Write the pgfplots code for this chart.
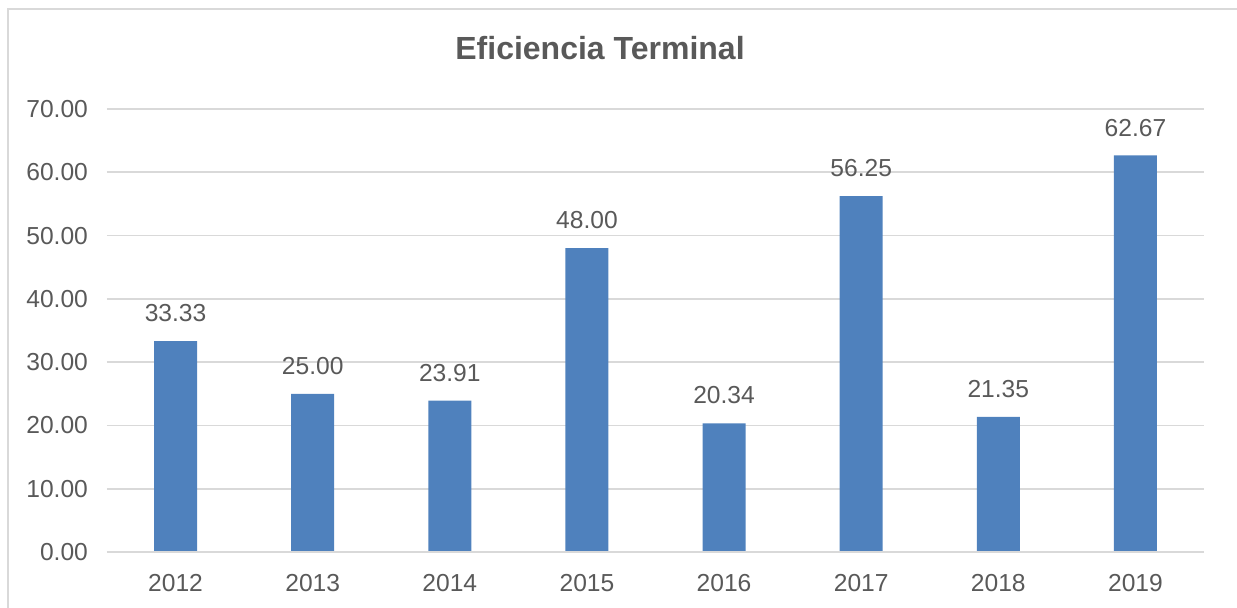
\documentclass[border=0pt]{standalone}
\usepackage{pgfplots}
\pgfplotsset{compat=1.18}
\usepackage{fontspec}
\setmainfont{Liberation Sans}
\definecolor{barblue}{HTML}{4F81BD}
\definecolor{txtgray}{HTML}{595959}
\definecolor{gridgray}{HTML}{D9D9D9}

\begin{document}
\begin{tikzpicture}
\useasboundingbox (-53.5pt,-28pt) rectangle (565pt,276pt);
\draw[gridgray, line width=0.8pt] (-49.5pt,-28pt) -- (-49.5pt,271.5pt) -- (565pt,271.5pt);
\node[font=\fontsize{16}{19}\selectfont\bfseries, text=txtgray] at (246.5pt,252pt) {Eficiencia Terminal};
\begin{axis}[
  at={(0,0)}, anchor=south west, scale only axis,
  width=548.5pt, height=221.5pt,
  xmin=-0.5, xmax=7.5, ymin=0, ymax=70,
  ytick={0,10,...,70},
  xtick=data,
  xticklabels={2012,2013,2014,2015,2016,2017,2018,2019},
  yticklabel={\pgfmathprintnumber[fixed,fixed zerofill,precision=2]{\tick}},
  /pgf/number format/assume math mode=true,
  ymajorgrids, grid style={gridgray, line width=0.8pt},
  axis line style={draw=none},
  major tick length=0pt,
  tick label style={font=\fontsize{12.3}{14}\selectfont, text=txtgray},
  yticklabel style={xshift=-6pt},
  xticklabel style={yshift=-7.5pt},
  ybar, bar width=21.5pt,
  nodes near coords={\pgfmathprintnumber[fixed,fixed zerofill,precision=2]{\pgfplotspointmeta}},
  every node near coord/.append style={font=\fontsize{12.3}{14}\selectfont, text=txtgray, yshift=6pt},
  clip=false,
]
\addplot[fill=barblue, draw=none] coordinates {
  (0,33.33) (1,25.00) (2,23.91) (3,48.00) (4,20.34) (5,56.25) (6,21.35) (7,62.67)};
\draw[gridgray, line width=0.8pt] (axis cs:-0.5,0) -- (axis cs:7.5,0);
\end{axis}
\end{tikzpicture}
\end{document}
